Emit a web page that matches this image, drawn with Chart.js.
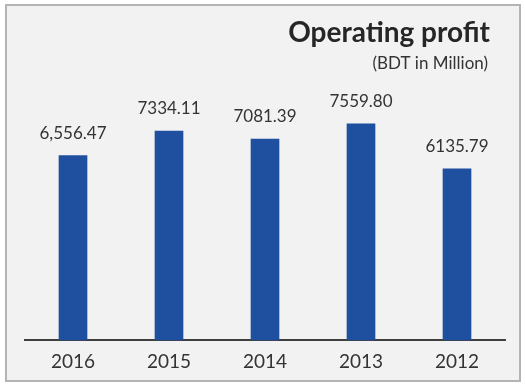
<!DOCTYPE html>
<html>
<head>
<meta charset="utf-8">
<script src="https://cdn.jsdelivr.net/npm/chart.js@4/dist/chart.umd.min.js"></script>
<style>
  html, body { margin: 0; padding: 0; background: #ffffff; }
  #wrap { width: 525px; height: 385px; position: relative; }
</style>
</head>
<body>
<div id="wrap"><canvas id="c" width="525" height="385"></canvas></div>
<script>
// Operating profit by year, BDT in million
const years = ['2016', '2015', '2014', '2013', '2012'];
const operatingProfit = [6556.47, 7334.11, 7081.39, 7559.80, 6135.79];
const valueLabels = ['6,556.47', '7334.11', '7081.39', '7559.80', '6135.79'];
const chartTitle = 'Operating profit';
const chartUnit = '(BDT in Million)';

const FONT = 'Lato, "Open Sans", "Liberation Sans", sans-serif';
const TEXT = '#333333';

// grey panel with a thin frame behind the chart
const panel = {
  id: 'panel',
  beforeDraw(chart) {
    const ctx = chart.ctx;
    ctx.save();
    ctx.fillStyle = '#ffffff';
    ctx.fillRect(0, 0, chart.width, chart.height);
    ctx.fillStyle = '#f2f2f2';
    ctx.fillRect(6, 5, 514, 376);
    ctx.strokeStyle = '#b4b4b4';
    ctx.lineWidth = 2;
    ctx.strokeRect(6, 5, 514, 376);
    ctx.restore();
  }
};

// title block, right aligned in the top corner
const heading = {
  id: 'heading',
  afterDraw(chart) {
    const ctx = chart.ctx;
    ctx.save();
    ctx.fillStyle = '#262626';
    ctx.textAlign = 'right';
    ctx.textBaseline = 'middle';
    ctx.font = 'bold 28px ' + FONT;
    ctx.fillText(chartTitle, 490, 33);
    ctx.fillStyle = TEXT;
    ctx.font = '17px ' + FONT;
    ctx.fillText(chartUnit, 488, 64);
    ctx.restore();
  }
};

// value printed above each bar
const barValues = {
  id: 'barValues',
  afterDatasetsDraw(chart) {
    const ctx = chart.ctx;
    const meta = chart.getDatasetMeta(0);
    ctx.save();
    ctx.fillStyle = TEXT;
    ctx.textAlign = 'center';
    ctx.textBaseline = 'middle';
    ctx.font = '17px ' + FONT;
    meta.data.forEach((bar, i) => {
      ctx.fillText(valueLabels[i], bar.x, bar.y - 22);
    });
    ctx.restore();
  }
};

new Chart(document.getElementById('c'), {
  type: 'bar',
  data: {
    labels: years,
    datasets: [{
      data: operatingProfit,
      backgroundColor: '#1f4f9f',
      borderWidth: 0,
      barThickness: 28
    }]
  },
  options: {
    responsive: false,
    animation: false,
    devicePixelRatio: 1,
    layout: { padding: { top: 110, left: 25, right: 20, bottom: 2 } },
    plugins: {
      legend: { display: false },
      tooltip: { enabled: false }
    },
    scales: {
      x: {
        grid: { display: false, drawTicks: false },
        border: { display: true, color: '#404040', width: 2 },
        ticks: { color: TEXT, font: { family: FONT, size: 19 }, padding: 10 }
      },
      y: {
        display: false,
        min: 700,
        max: 8000
      }
    }
  },
  plugins: [panel, heading, barValues]
});
</script>
</body>
</html>
